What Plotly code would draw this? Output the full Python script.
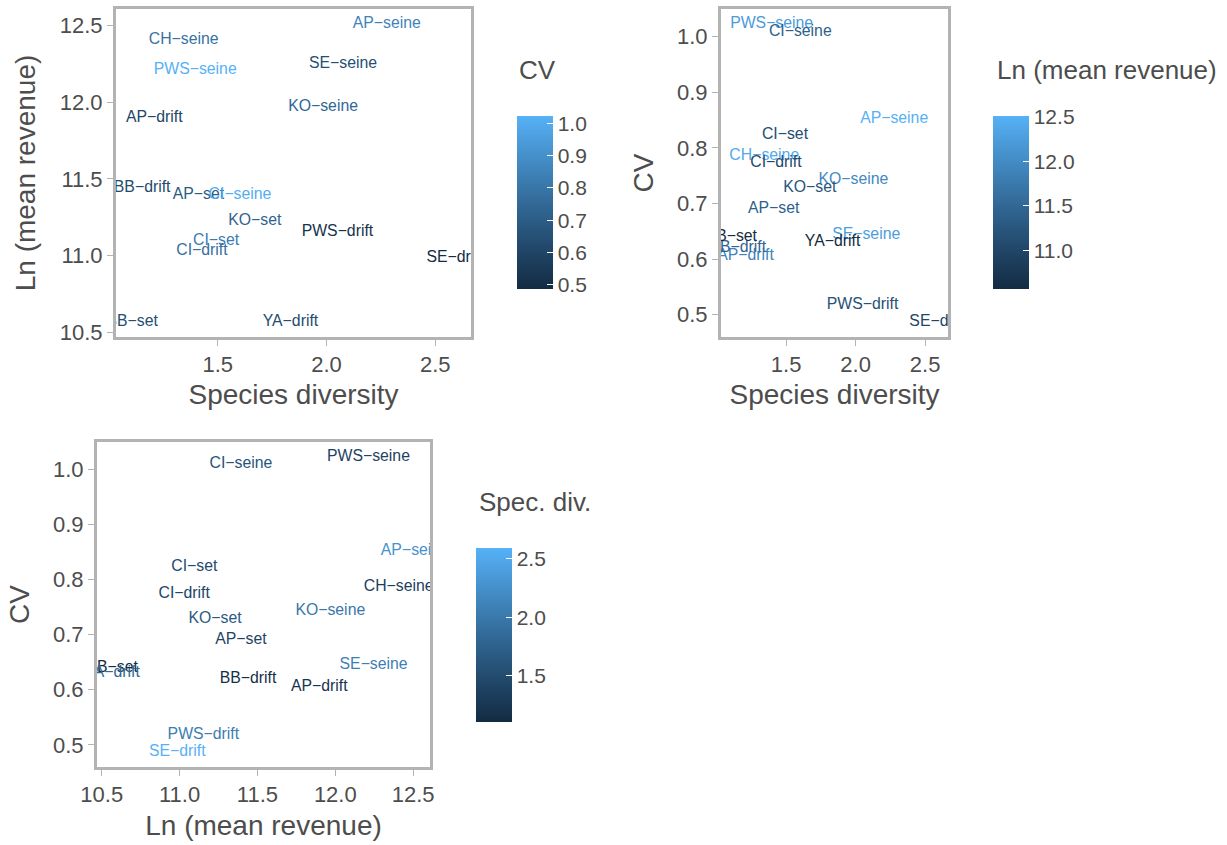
import plotly.graph_objects as go
from plotly.colors import sample_colorscale

# ---------------- data ----------------
fisheries = ["AP\u2212seine", "CH\u2212seine", "PWS\u2212seine", "SE\u2212seine", "KO\u2212seine",
             "AP\u2212drift", "BB\u2212drift", "AP\u2212set", "CI\u2212seine", "KO\u2212set",
             "PWS\u2212drift", "CI\u2212set", "CI\u2212drift", "SE\u2212drift", "BB\u2212set", "YA\u2212drift"]
spec_div = [2.277, 1.343, 1.396, 2.076, 1.984,
            1.208, 1.152, 1.411, 1.602, 1.670,
            2.050, 1.492, 1.427, 2.590, 1.106, 1.834]
ln_rev = [12.511, 12.407, 12.213, 12.246, 11.968,
          11.897, 11.440, 11.394, 11.394, 11.228,
          11.153, 11.095, 11.030, 10.985, 10.567, 10.567]
cv = [0.852, 0.786, 1.023, 0.644, 0.742,
      0.605, 0.620, 0.690, 1.009, 0.7285,
      0.5175, 0.8235, 0.773, 0.4866, 0.6394, 0.6305]

cv_ticks = [0.5, 0.6, 0.7, 0.8, 0.9, 1.0]
rev_ticks = [10.5, 11.0, 11.5, 12.0, 12.5]
div_ticks = [1.5, 2.0, 2.5]
rev_cbar_ticks = [11.0, 11.5, 12.0, 12.5]

# ---------------- colour scale (ggplot default, Lab interpolation) ----------------
LOW, HIGH = "#132B43", "#56B1F7"
WX, WY, WZ = 0.95047, 1.0, 1.08883


def _to_lin(c):
    c = c / 255.0
    return c / 12.92 if c <= 0.04045 else ((c + 0.055) / 1.055) ** 2.4


def _from_lin(c):
    v = 12.92 * c if c <= 0.0031308 else 1.055 * c ** (1 / 2.4) - 0.055
    return max(0, min(255, round(v * 255)))


def hex_to_lab(h):
    r, g, b = (_to_lin(int(h[i:i + 2], 16)) for i in (1, 3, 5))
    x = 0.4124 * r + 0.3576 * g + 0.1805 * b
    y = 0.2126 * r + 0.7152 * g + 0.0722 * b
    z = 0.0193 * r + 0.1192 * g + 0.9505 * b

    def f(t):
        return t ** (1 / 3) if t > 0.008856 else 7.787 * t + 16 / 116
    fx, fy, fz = f(x / WX), f(y / WY), f(z / WZ)
    return 116 * fy - 16, 500 * (fx - fy), 200 * (fy - fz)


def lab_to_rgb(L, a, b):
    fy = (L + 16) / 116
    fx = fy + a / 500
    fz = fy - b / 200

    def finv(t):
        return t ** 3 if t ** 3 > 0.008856 else (t - 16 / 116) / 7.787
    x, y, z = finv(fx) * WX, finv(fy) * WY, finv(fz) * WZ
    r = 3.2406 * x - 1.5372 * y - 0.4986 * z
    g = -0.9689 * x + 1.8758 * y + 0.0415 * z
    bb = 0.0557 * x - 0.2040 * y + 1.0570 * z
    return "rgb(%d,%d,%d)" % (_from_lin(r), _from_lin(g), _from_lin(bb))


lab_lo, lab_hi = hex_to_lab(LOW), hex_to_lab(HIGH)
N = 21
colorscale = []
for i in range(N):
    t = i / (N - 1)
    colorscale.append([t, lab_to_rgb(*[lo + (hi - lo) * t for lo, hi in zip(lab_lo, lab_hi)])])


def colours_for(vals):
    lo, hi = min(vals), max(vals)
    return sample_colorscale(colorscale, [(v - lo) / (hi - lo) for v in vals])


def expand(vals, k=0.05):
    lo, hi = min(vals), max(vals)
    d = (hi - lo) * k
    return [lo - d, hi + d]


# ---------------- styling ----------------
W, H = 1227, 845
FONT = "Liberation Sans, Arial, Helvetica, sans-serif"
GREY30 = "#4D4D4D"
BORDER = "#B3B3B3"


def px_x(p):
    return p / W


def px_y(p):
    return 1 - p / H


def axis_style(domain, rng, ticks, title, standoff):
    return dict(
        domain=domain, range=rng, tickvals=ticks, ticktext=["%.1f" % t for t in ticks],
        showgrid=False, zeroline=False, showline=True, mirror=True,
        linecolor=BORDER, linewidth=3, automargin=False,
        ticks="outside", ticklen=6, tickwidth=1.3, tickcolor=BORDER,
        tickfont=dict(size=22, color=GREY30, family=FONT),
        title=dict(text=title, font=dict(size=28, color=GREY30, family=FONT), standoff=standoff),
        fixedrange=True,
    )


def cbar(x_left, y_top, y_bot, ticks):
    return dict(
        x=px_x(x_left), xanchor="left", xpad=0, ypad=0,
        y=px_y((y_top + y_bot) / 2), yanchor="middle",
        thickness=36, thicknessmode="pixels",
        len=(y_bot - y_top), lenmode="pixels",
        outlinewidth=0, borderwidth=0,
        tickvals=ticks, ticktext=["%.1f" % t for t in ticks],
        ticks="inside", ticklen=6, tickwidth=1.3, tickcolor="white",
        tickfont=dict(size=21, color=GREY30, family=FONT),
    )


def text_trace(x, y, cvals, xa, ya, cb):
    return go.Scatter(
        x=x, y=y, text=fisheries, mode="markers+text", textposition="middle center",
        textfont=dict(size=15.8, family=FONT, color=colours_for(cvals)),
        marker=dict(size=1, opacity=0, line=dict(width=0), color=cvals, colorscale=colorscale,
                    cmin=min(cvals), cmax=max(cvals), showscale=True, colorbar=cb),
        xaxis=xa, yaxis=ya, cliponaxis=True, hoverinfo="text", showlegend=False,
    )


fig = go.Figure()
fig.add_trace(text_trace(spec_div, ln_rev, cv, "x", "y", cbar(517, 116, 289, cv_ticks)))
fig.add_trace(text_trace(spec_div, cv, ln_rev, "x2", "y2", cbar(993, 116, 289, rev_cbar_ticks)))
fig.add_trace(text_trace(ln_rev, cv, spec_div, "x3", "y3", cbar(476, 548, 722, div_ticks)))

fig.update_layout(
    width=W, height=H, margin=dict(l=0, r=0, t=0, b=0, autoexpand=False),
    paper_bgcolor="white", plot_bgcolor="white", showlegend=False,
    xaxis=axis_style([px_x(116), px_x(471)], expand(spec_div), div_ticks, "Species diversity", 8),
    yaxis=axis_style([px_y(337), px_y(9)], expand(ln_rev), rev_ticks, "Ln (mean revenue)", 16),
    xaxis2=axis_style([px_x(721), px_x(948)], expand(spec_div), div_ticks, "Species diversity", 8),
    yaxis2=axis_style([px_y(337), px_y(9)], expand(cv), cv_ticks, "CV", 16),
    xaxis3=axis_style([px_x(97), px_x(430)], expand(ln_rev), rev_ticks, "Ln (mean revenue)", 9),
    yaxis3=axis_style([px_y(767), px_y(442)], expand(cv), cv_ticks, "CV", 16),
)
fig.layout.xaxis2.anchor = "y2"
fig.layout.yaxis2.anchor = "x2"
fig.layout.xaxis3.anchor = "y3"
fig.layout.yaxis3.anchor = "x3"

legend_titles = [("CV", 517, 70), ("Ln (mean revenue)", 995, 70), ("Spec. div.", 477, 502)]
for txt, lx, ly in legend_titles:
    fig.add_annotation(text=txt, xref="paper", yref="paper", x=px_x(lx), y=px_y(ly),
                       xanchor="left", yanchor="middle", showarrow=False,
                       font=dict(size=26, color=GREY30, family=FONT))

fig.write_html("out.html")
